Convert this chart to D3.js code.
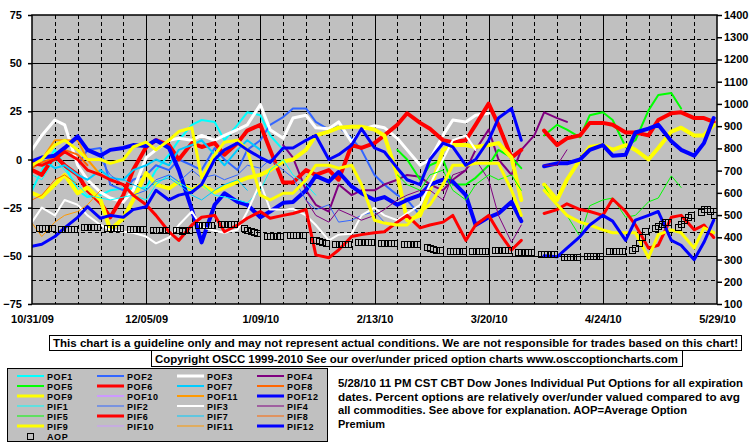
<!DOCTYPE html>
<html><head><meta charset="utf-8">
<script src="https://cdn.jsdelivr.net/npm/d3@7/dist/d3.min.js"></script>
<style>
body{margin:0;background:#fff;}
svg text{font-family:"Liberation Sans",Arial,sans-serif;font-weight:bold;font-size:11px;fill:#000;}
svg text.lg{font-size:9px;letter-spacing:0.6px;}
</style></head><body>
<svg id="chart" width="755" height="446"></svg>
<script>
// ---------------- DATA ----------------
const dates = ["2009-10-31","2009-11-03","2009-11-07","2009-11-10","2009-11-14","2009-11-17","2009-11-21","2009-11-24","2009-11-28","2009-12-01","2009-12-05","2009-12-08","2009-12-12","2009-12-15","2009-12-19","2009-12-22","2009-12-26","2009-12-29","2010-01-02","2010-01-05","2010-01-09","2010-01-12","2010-01-16","2010-01-19","2010-01-23","2010-01-26","2010-01-30","2010-02-02","2010-02-06","2010-02-09","2010-02-13","2010-02-16","2010-02-20","2010-02-23","2010-02-27","2010-03-02","2010-03-06","2010-03-09","2010-03-13","2010-03-16","2010-03-20","2010-03-23","2010-03-27","2010-03-30","2010-04-03","2010-04-06","2010-04-10","2010-04-13","2010-04-17","2010-04-20","2010-04-24","2010-04-27","2010-05-01","2010-05-04","2010-05-08","2010-05-11","2010-05-15","2010-05-18","2010-05-22","2010-05-25","2010-05-28"];
const xTickLabels = ["2009-10-31","2009-12-05","2010-01-09","2010-02-13","2010-03-20","2010-04-24","2010-05-29"];
const leftTicks = [-75,-50,-25,0,25,50,75];
const rightTicks = [100,200,300,400,500,600,700,800,900,1000,1100,1200,1300,1400];

// series values (percent), aligned to dates starting at the given start index
const pof1 = [-16,-5.5,5,-3,-16,-19.5,-18.5,-16,-15,-15,-14.5,-5.5,2.5,10,18,20.5,19.5,10,18,24.5,23,12.5,5];
const pof2 = [-3,5,6,-13,-16,-10.5,-8,-3,-5.5,0,-3,-5.5,6,0,-5.5,5,10,18,22,26.5,26.5,19.5,15.5,17,11,5,-8,-13,-18.5,-21,-29];
const pof3 = [5,12.5,20.5,18,-3,-10.5,-17,-20,-22,-16,1,5,10,11,10,12.5,10,12.5,15.5,18,28.5,15.5,11,21.5,23,16.5,16,19.5,9,15.5,17.5,16.5,11,5,-3,0,12.5,20.5,19.5,23,24];
const pof4 = [7.5,1,-16,-23.5,-27,-13,-18.5,-16,-16,-13,-10.5,-8,-9,-13,-16,-10.5,-5.5,5,15.5,0,-8,5,12.5,24.5,21.5,19.5];
const pof5 = [5,0,-10.5,-3,0,-13,-13,-9.5,-3,5,1,-4.5,null,12.5,18,15.5,11.5,23,24.5,20.5,6.5,10,25.5,33.5,34.5,26.5];
const pof6 = [-5.5,-8,2,-3,-8,-16,-22.5,-30,-18.5,-5.5,6.5,10,7.5,0,8.5,6.5,8.5,2.5,8.5,15,18,5,-12,-12,-5.5,-8,-5.5,-10.5,7.5,6,8.5,12.5,18,24,19,16,10,9,10,18,29,18,1,5,null,15,7.5,11,12.5,19,19,18,14,14,12.5,20.5,24,24.5,21.5,21.5,19.5];
const pof7 = [-3,0,-4.5,-3,-8,-10.5,-5.5,-9.5,-10.5,-5.5,-3,0,-3,5,7.5,10,2.5,-3,5,10,5];
const pof8 = [-4.5,-1.5,1,5,2.5,-3];
const pof9 = [-17.5,-19.5,-13,-8,-17.5,-14.5,-21,-36.5,-30.5,-21,-7,-13,-15,-11.5,-16,-13,-17,-14.5,-11.5,-9.5,-8,-5.5,-1,0,5,12.5,14.5,16.5,17,17,15.5,12.5,-8,-31.5,-29,-16,5,7.5,7.5,6.5,7.5,8.5,1,-21,null,-13,-21,-10.5,0,6.5,7.5,5,7.5,5,0,6,14.5,16.5,12.5,12.5,18];
const pof10 = [];
const pof11 = [-3,0,10,10,10,0,-8];
const pof12 = [-1,1,2,6,12,5,2,5,6,7.5,7,10,6,-5.5,-26,-43,-23.5,-17.5,-22,-23.5,-30,-27,-22.5,-22,-16,-8.5,-11.5,-6.5,-14,-17.5,-21,-19.5,-23.5,-21,-18.5,-13,-10.5,-11.5,-18.5,-34,-30,-28,-22,-32,null,-3.5,-2,-2,0,5,7.5,2,2.5,14,16,18,9.5,5,2,8.5,21.5];
const pif1 = [-8,-10.5,0,-5.5,-13,-18.5,-20,-21,-19.5,-18.5,-21,-13,-8,-12,-16,-13,-18.5,-19.5,-21,-22.5,-16,-5.5,0,-8,-13,-18.5];
const pif2 = [0,-8,-13,-18.5,-16,-10.5,-8,-11.5,-5.5,-9.5,-8,-10.5,-8,-3,-4.5,0,-5.5,-9.5,-21,-26,-23.5,-32.5,-31.5,-29,-27,-32.5];
const pif3 = [-32.5,-25,-29,-21,-23.5,-29,-34,-36.5,-37.5,-38,-40,-43.5,-40.5,-34,-27,-35,-37,-38,-36.5,-27,-12,-26,-26,-25.5,-29,-34,-42,-39,-38.5,-29,-25,-29,-31.5,-28,-23.5,-13,0,10,12.5,5];
const pif4 = [-21,-29,-32.5,-26,-29,-31.5,-29,-26,-21,-18.5,-16,-16,-21,-8,-5.5,0,-10.5,-29,-43,-34,null,-3,-3,5];
const pif5 = [-8,-13,-16,-8,-5.5,-16,-21,-13,-8,-10.5,-8,-16,null,-14,-24.5,-29,-40,-24,-21,-20,-30,-29,-22,-20,-8.5,-14.5];
const pif6 = [-2,-3,0,4,0,-5.5,-8,-10.5,-13,-18.5,-23.5,-29,-37.5,-42,-34,-30,-29,-37.5,-34,-30.5,-27,-30.5,-29,-28,-26,-49.5,-51,-47,-40,-39,-38,-37.5,-32.5,-29,-35.5,-34,-32.5,-29,-42,-34,-29,-37.5,-47,-42,null,-28,-26,-23,-26,-27,-29,-20.5,-27,-34,-46,-44.5,-30,-29,-36.5,-34,-40.5];
const pif7 = [-10.5,-13,-16,-11.5,-9.5,-13,-18.5,-21,-16,-13,-10.5,-16];
const pif8 = [-21,-18.5,-10.5,-8,-13];
const pif9 = [-3,0,7.5,10,5,0,0,-2,0,6.5,9,5,10,14.5,16.5,-9.5,2.5,9,10,5,-18.5,-21,-17.5,-17.5,-10.5,-3,-3,-4.5,-3,-13,-31.5,-33,-34,-34,-27,-23.5,-13,-3,-3,-2,-2,-2,-16,-29,null,-16,-23.5,-29,-32.5,-34,-36.5,-38,-38,-38,-51,-39,-36.5,-38,-46,-35.5,-38];
const pif10 = [];
const pif11 = [-33,-40,-32.5,-29,-27,-23.5,-16];
const pif12 = [-45,-44,-40,-35.5,-30,-24.5,-30.5,-29,-30,-26,-24.5,-16,-21,-18.5,-17,-13,0,5,8.5,5,1,-1.5,6,6,10,12.5,0,2.5,7.5,16,6,4,-4.5,-10.5,-13,0,8.5,6.5,-3,0,10,21.5,26.5,10,null,-50,-50.5,-46,-40,-34,-29,-32,-42,-31.5,-29,-27,-42,-44.5,-52,-43,-31.5];
const seriesStart = {pof1:0,pof2:4,pof3:0,pof4:22,pof5:32,pof6:0,pof7:0,pof8:0,pof9:0,pof10:0,pof11:0,pof12:0,
  pif1:0,pif2:6,pif3:0,pif4:24,pif5:32,pif6:0,pif7:8,pif8:0,pif9:0,pif10:0,pif11:0,pif12:0};

// AOP (right axis), one value per trading day starting 2009-11-02
const aopStart = "2009-11-02";
const aop = [442,440,442,444,442, 437,438,437,436,437, 446,447,446,445,446, 442,443,442,441,442,
  437,437,438,437,436, 433,434,433,432,433, 431,431,430,431,432, 455,456,455,454,455,
  460,459,460,461,460, 440,435,430,425,420, 406,407,406,405,406, 410,411,410,409,410,
  390,386,382,378,374, 370,371,370,369,370, 379,378,379,380,379, 374,375,374,373,374,
  370,371,370,369,370, 356,352,348,345,343, 338,339,338,337,338, 338,337,338,339,338,
  343,344,343,342,343, 334,335,334,333,334, 325,326,325,324,325, 311,312,311,310,311,
  316,315,316,317,316, 338,339,338,337,338, 343,352,374,400,428, 442,451,460,469,469,
  446,460,478,491,500, 514,527,527,518,500];

const descLines = ["5/28/10 11 PM CST CBT Dow Jones Individual Put Options for all expiration",
  "dates. Percent options are relatively over/under valued compared to avg",
  "all commodities. See above for explanation. AOP=Average Option",
  "Premium"];
const disclaimer = "This chart is a guideline only and may not represent actual conditions. We are not responsible for trades based on this chart!";
const copyright = "Copyright OSCC 1999-2010 See our over/under priced option charts www.osccoptioncharts.com";

// ---------------- STYLE ----------------
const colors = ["#00ffff","#3366ff","#ffffff","#800080","#00ff00","#ff0000","#00ccff","#ff6600","#ffff00","#cc99ff","#ff9900","#0000ff"];
const pofArr = [pof1,pof2,pof3,pof4,pof5,pof6,pof7,pof8,pof9,pof10,pof11,pof12];
const pifArr = [pif1,pif2,pif3,pif4,pif5,pif6,pif7,pif8,pif9,pif10,pif11,pif12];
const series = [];
pofArr.forEach((a,i)=>{const n=i+1; series.push({name:"POF"+n,data:a,start:seriesStart["pof"+n],color:colors[i],
  width:(n===6||n===9||n===12)?4:(n===3?3:2)});});
pifArr.forEach((a,i)=>{const n=i+1; series.push({name:"PIF"+n,data:a,start:seriesStart["pif"+n],color:colors[i],
  width:(n===6||n===9||n===12)?3:(n===3?2:1)});});

// ---------------- CHART ----------------
const parse = d3.timeParse("%Y-%m-%d");
const X = dates.map(parse);
const L=32,R=717,T=15,B=304;
const x = d3.scaleTime().domain([parse("2009-10-31"), parse("2010-05-29")]).range([L,R]);
const yL = d3.scaleLinear().domain([-75,75]).range([B,T]);
const yR = d3.scaleLinear().domain([100,1400]).range([B,T]);
const svg = d3.select("#chart");
svg.append("rect").attr("width",755).attr("height",446).attr("fill","#fff");
svg.append("rect").attr("x",L).attr("y",T).attr("width",R-L).attr("height",B-T).attr("fill","#c0c0c0");

// grid
const hg = d3.range(-62.5, 63, 12.5);
svg.append("g").selectAll("line").data(hg).join("line")
  .attr("x1",L).attr("x2",R)
  .attr("y1",d=>Math.round(yL(d))+0.5).attr("y2",d=>Math.round(yL(d))+0.5)
  .attr("stroke","#000").attr("stroke-width",1)
  .attr("stroke-dasharray",d=>(d%25===0)?null:"4,3");
const start0 = parse("2009-10-31");
const vg = d3.range(7,210,7);
svg.append("g").selectAll("line").data(vg).join("line")
  .attr("x1",d=>Math.round(x(d3.timeDay.offset(start0,d)))+0.5).attr("x2",d=>Math.round(x(d3.timeDay.offset(start0,d)))+0.5)
  .attr("y1",T).attr("y2",B)
  .attr("stroke","#000").attr("stroke-width",1)
  .attr("stroke-dasharray",d=>(d%35===0)?null:"4,3");

// clip
svg.append("clipPath").attr("id","clip").append("rect").attr("x",L).attr("y",T).attr("width",R-L).attr("height",B-T);
const plot = svg.append("g").attr("clip-path","url(#clip)");
const line = d3.line().defined(d=>d.v!==null).x(d=>x(d.d)).y(d=>yL(d.v));
series.forEach(s=>{
  if(!s.data.length) return;
  const pts = s.data.map((v,i)=>({d:X[s.start+i], v:v}));
  plot.append("path").datum(pts).attr("d",line).attr("fill","none")
    .attr("stroke",s.color).attr("stroke-width",s.width)
    .attr("stroke-linejoin","round").attr("stroke-linecap","round");
});

// AOP markers
const aopDates=[]; let dd=parse(aopStart);
while(aopDates.length<aop.length){const w=dd.getDay(); if(w!==0&&w!==6) aopDates.push(dd); dd=d3.timeDay.offset(dd,1);}
plot.append("g").selectAll("rect").data(aop).join("rect")
  .attr("x",(v,i)=>Math.round(x(aopDates[i]))-3+0.5).attr("y",v=>Math.round(yR(v))-3+0.5)
  .attr("width",6).attr("height",6).attr("fill","none").attr("stroke","#000").attr("stroke-width",1);

// frame
svg.append("rect").attr("x",L).attr("y",T).attr("width",R-L).attr("height",B-T)
  .attr("fill","none").attr("stroke","#000").attr("stroke-width",1.5);

// axes
function clean(g){g.attr("font-size",null).attr("font-family",null); g.select(".domain").remove(); g.selectAll("line").attr("stroke","#000").attr("stroke-width",1.5);}
svg.append("g").attr("transform",`translate(${L},0)`)
  .call(d3.axisLeft(yL).tickValues(leftTicks).tickSize(4).tickPadding(6).tickFormat(d3.format("d"))).call(clean);
svg.append("g").attr("transform",`translate(${R},0)`)
  .call(d3.axisRight(yR).tickValues(rightTicks).tickSize(5).tickPadding(2).tickFormat(d3.format("d"))).call(clean);
svg.append("g").attr("transform",`translate(0,${B})`)
  .call(d3.axisBottom(x).tickValues(xTickLabels.map(parse)).tickSize(0).tickPadding(11).tickFormat(d3.timeFormat("%-m/%d/%y"))).call(clean);

// disclaimer boxes
svg.append("rect").attr("x",49.5).attr("y",335.5).attr("width",692).attr("height",15).attr("fill","#fff").attr("stroke","#000");
svg.append("text").attr("x",53).attr("y",347).attr("textLength",685).attr("lengthAdjust","spacingAndGlyphs").text(disclaimer);
svg.append("rect").attr("x",151.5).attr("y",350.5).attr("width",531).attr("height",16).attr("fill","#fff").attr("stroke","#000");
svg.append("text").attr("x",155).attr("y",362.5).attr("textLength",523).attr("lengthAdjust","spacingAndGlyphs").text(copyright);

// legend
svg.append("rect").attr("x",7.5).attr("y",368.5).attr("width",320).attr("height",73).attr("fill","#c0c0c0").attr("stroke","#000");
const order = [];
for(let r=0;r<3;r++) for(let c=0;c<4;c++) order.push({s:series[r*4+c],r:r,c:c});
for(let r=0;r<3;r++) for(let c=0;c<4;c++) order.push({s:series[12+r*4+c],r:r+3,c:c});
const lg = svg.append("g");
order.forEach(o=>{
  const y0 = 376 + o.r*10, x0 = 17 + o.c*80;
  lg.append("line").attr("x1",x0).attr("x2",x0+27).attr("y1",y0).attr("y2",y0)
    .attr("stroke",o.s.color).attr("stroke-width",Math.min(o.s.width,3));
  lg.append("text").attr("class","lg").attr("x",x0+30).attr("y",y0+3.5).text(o.s.name);
});
lg.append("rect").attr("x",27.5).attr("y",433.5).attr("width",6).attr("height",6).attr("fill","none").attr("stroke","#000");
lg.append("text").attr("class","lg").attr("x",47).attr("y",439.5).text("AOP");

// description
const descW = [405,402,349,47];
descLines.forEach((t,i)=>{
  svg.append("text").attr("x",338).attr("y",387+i*13.5).attr("textLength",descW[i]).attr("lengthAdjust","spacingAndGlyphs").text(t);
});
</script>
</body></html>
